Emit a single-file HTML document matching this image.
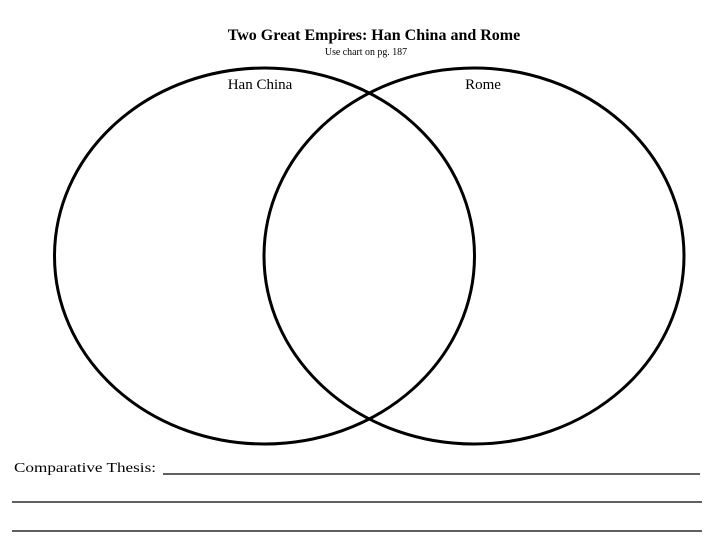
<!DOCTYPE html>
<html><head><meta charset="utf-8"><style>
html,body{margin:0;padding:0;background:#fff;}
body{width:720px;height:540px;position:relative;overflow:hidden;font-family:"Liberation Serif",serif;}
</style></head><body>
<svg width="720" height="540" style="position:absolute;left:0;top:0" xmlns="http://www.w3.org/2000/svg">
<text x="374" y="40" text-anchor="middle" font-family="Liberation Serif,serif" font-weight="bold" font-size="16">Two Great Empires:  Han China and Rome</text>
<text x="366" y="55" text-anchor="middle" font-family="Liberation Serif,serif" font-size="11" transform="translate(366 0) scale(0.9 1) translate(-366 0)">Use chart on pg. 187</text>
<text x="260" y="89" text-anchor="middle" font-family="Liberation Serif,serif" font-size="15">Han China</text>
<text x="483" y="89" text-anchor="middle" font-family="Liberation Serif,serif" font-size="15">Rome</text>
<ellipse cx="264.5" cy="256" rx="210" ry="188" fill="none" stroke="#000" stroke-width="3"/>
<ellipse cx="474" cy="256" rx="210" ry="188" fill="none" stroke="#000" stroke-width="3"/>
<text x="14" y="472" font-family="Liberation Serif,serif" font-size="14" textLength="142" lengthAdjust="spacingAndGlyphs">Comparative Thesis:</text>
<line x1="163" y1="474" x2="700" y2="474" stroke="#000" stroke-width="1.3"/>
<line x1="12" y1="502" x2="702" y2="502" stroke="#000" stroke-width="1.3"/>
<line x1="12" y1="531" x2="702" y2="531" stroke="#000" stroke-width="1.3"/>
</svg>
</body></html>
